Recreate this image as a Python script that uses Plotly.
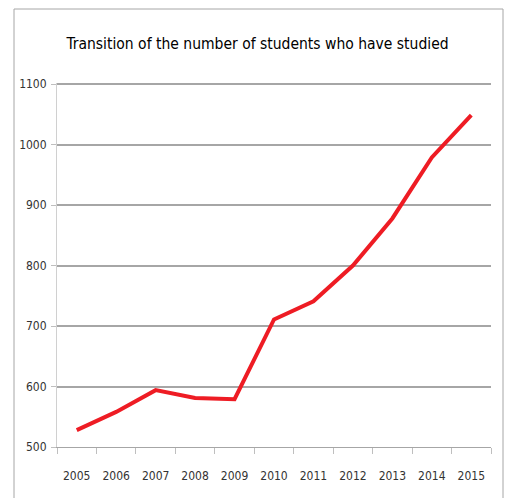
import plotly.graph_objects as go

# values
years = ["2005", "2006", "2007", "2008", "2009", "2010",
         "2011", "2012", "2013", "2014", "2015"]
students = [528, 558, 594, 581, 579, 711, 741, 800, 878, 979, 1049]
y_ticks = [500, 600, 700, 800, 900, 1000, 1100]

W, H = 505, 498
L, R, T, B = 57, 14, 83, 51
pw, ph = W - L - R, H - T - B

fig = go.Figure()
fig.add_trace(go.Scatter(
    x=years, y=students, mode="lines",
    line=dict(color="#ee1c24", width=4),
    hoverinfo="x+y",
))

# outer chart frame (px -> paper)
def px_x(v):
    return (v - L) / pw

def px_y(v):
    return (H - B - v) / ph

fig.add_shape(type="rect", xref="paper", yref="paper",
              x0=px_x(14), x1=px_x(503), y0=px_y(520), y1=px_y(9),
              line=dict(color="#a6a6a6", width=1), fillcolor="rgba(0,0,0,0)",
              layer="below")

narrow = "DejaVu Sans Condensed, Liberation Sans Narrow, sans-serif"
tick_font = dict(family=narrow, size=12, color="#333333")

fig.update_layout(
    width=W, height=H,
    margin=dict(l=L, r=R, t=T, b=B, autoexpand=False),
    paper_bgcolor="white", plot_bgcolor="white",
    showlegend=False,
    title=dict(text="Transition of the number of students who have studied",
               x=0.51, xanchor="center", y=1 - 44 / H, yanchor="middle",
               font=dict(family=narrow, size=15.5, color="black")),
    xaxis=dict(
        type="category", tickson="boundaries",
        range=[-0.5, len(years) - 0.5],
        showgrid=False, showline=True, linecolor="#a6a6a6", linewidth=1,
        ticks="outside", ticklen=6, tickcolor="#bfbfbf",
        tickfont=tick_font, ticklabelstandoff=18,
    ),
    yaxis=dict(
        range=[500, 1102], tickvals=y_ticks,
        showgrid=True, gridcolor="#a6a6a6", gridwidth=1.5,
        showline=True, linecolor="#d0d0d0", linewidth=1,
        ticks="outside", ticklen=5, tickcolor="#bfbfbf",
        tickfont=tick_font, ticklabelstandoff=2, zeroline=False,
    ),
)

fig.write_html("out.html", config={"displayModeBar": False},
               post_script="document.body.style.margin='0';")
